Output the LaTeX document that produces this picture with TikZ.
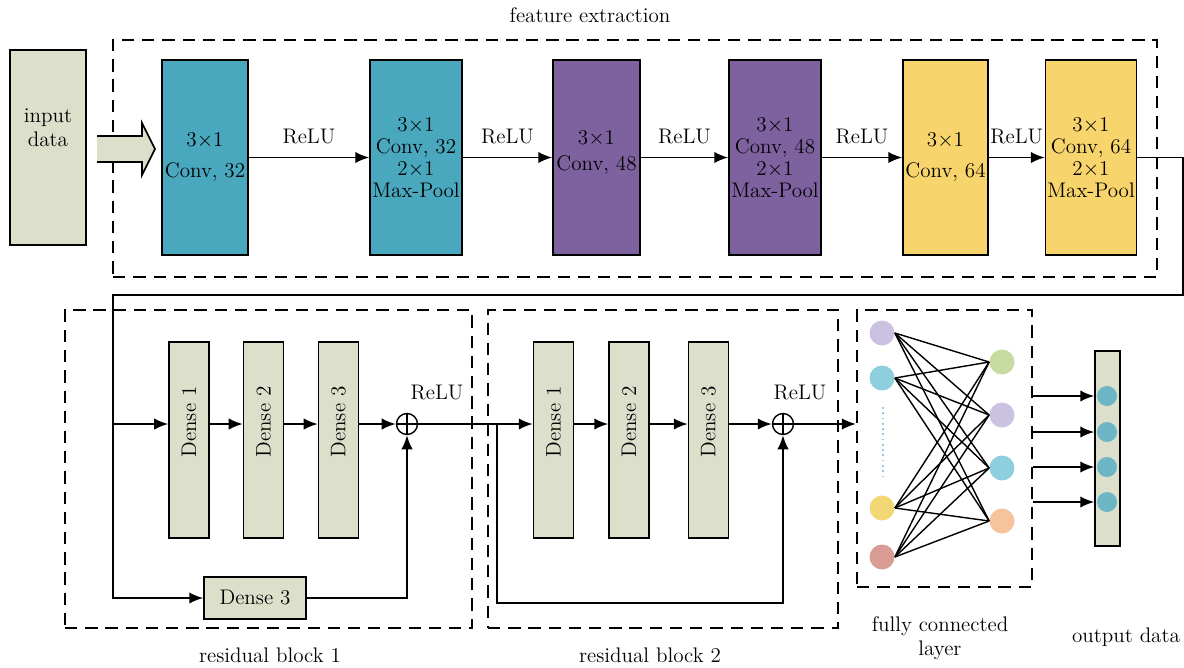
\documentclass[tikz,border=0pt]{standalone}
\usepackage{amsmath}
\usetikzlibrary{arrows.meta,positioning,shapes}
\usepackage{xcolor}

\definecolor{convblue}{HTML}{4AA8BE}
\definecolor{convpurple}{HTML}{7E62A0}
\definecolor{convyellow}{HTML}{F8D56C}
\definecolor{densegray}{HTML}{DCDFCA}
\definecolor{fclilac}{HTML}{CBC1E0}
\definecolor{fcblue}{HTML}{8ECFDE}
\definecolor{fcyellow}{HTML}{F3D774}
\definecolor{fcred}{HTML}{D99C95}
\definecolor{fcgreen}{HTML}{C6DBA0}
\definecolor{fcorange}{HTML}{F6C39D}
\definecolor{outteal}{HTML}{6DB6C5}

% rotated text in the dense layers, lifted to the arrow level
\newcommand{\denselabel}[1]{\rotatebox{90}{\hspace{0.72cm}#1}}

\begin{document}
\begin{tikzpicture}[%
        x=0.02cm, y=-0.02cm,
        every node/.style={font=\fontsize{12}{12.5}\selectfont, align=center, inner sep=1pt},
        convbox/.style={draw, line width=0.8pt, minimum height=3.9cm},
        densebox/.style={draw, fill=densegray, line width=0.8pt, minimum width=0.8cm, minimum height=3.92cm},
        region/.style={draw, line width=1.2pt, dash pattern=on 7pt off 4.5pt, inner sep=0pt},
        neuron/.style={circle, minimum size=0.5cm, inner sep=0pt},
        adder/.style={draw, circle, line width=0.8pt, minimum size=0.42cm, inner sep=0pt},
        link/.style={line width=1.1pt},
        >={Latex[length=8pt,width=6.5pt]}
      ]
      \useasboundingbox (0,0) rectangle (1184,667);

      % dashed regions
      \node [region, minimum width=20.88cm, minimum height=4.74cm] (feat) at (635,158.5) {};
      \node [region, minimum width=8.14cm, minimum height=6.36cm] (res1) at (268.5,469) {};
      \node [region, minimum width=7cm, minimum height=6.36cm] (res2) at (663,469) {};
      \node [region, minimum width=3.5cm, minimum height=5.54cm] (fc) at (944.5,448.5) {};
      \node (featlbl) at (590,15) {feature extraction};
      \node (res1lbl) at (270,655) {residual block 1};
      \node (res2lbl) at (650,655) {residual block 2};
      \node (fclbl) at (940,638) {fully connected\\[1pt]layer};
      \node (outlbl) at (1126,637) {output data};

      % input
      \node [draw, fill=densegray, line width=0.8pt, minimum width=1.52cm, minimum height=3.9cm] (input) at (48,147.5) {};
      \node (inputlbl) at (48,128) {input\\[1pt]data};
      \draw [fill=densegray, draw=none] (97,136) -- (142,136) -- (142,123) -- (155,149) -- (142,175) -- (142,162) -- (97,162) -- cycle;
      \draw [line width=1pt] (97,136) -- (142,136) -- (142,123) -- (155,149) -- (142,175) -- (142,162) -- (97,162);

      % feature extraction
      \node [convbox, fill=convblue, minimum width=1.72cm] (c1) at (205,157.5) {$3{\times}1$\\[5pt]Conv, 32};
      \node [convbox, fill=convblue, minimum width=1.84cm] (c2) at (416,157.5) {$3{\times}1$\\Conv, 32\\$2{\times}1$\\Max-Pool};
      \node [convbox, fill=convpurple, minimum width=1.74cm] (c3) at (596.5,157.5) {$3{\times}1$\\[2pt]Conv, 48\\[-5pt]};
      \node [convbox, fill=convpurple, minimum width=1.84cm] (c4) at (775,157.5) {$3{\times}1$\\Conv, 48\\$2{\times}1$\\Max-Pool};
      \node [convbox, fill=convyellow, minimum width=1.70cm] (c5) at (945.5,157.5) {$3{\times}1$\\[5pt]Conv, 64};
      \node [convbox, fill=convyellow, minimum width=1.64cm] (c6) at (1091,157.5) {$3{\times}1$\\Conv, 64\\$2{\times}1$\\Max-Pool};
      \foreach \a/\b in {c1/c2, c2/c3, c3/c4, c4/c5, c5/c6}
        \draw [link, ->] (\a) -- node [above=6pt] {ReLU} (\b);

      % residual block 1
      \node [densebox] (d11) at (189,440) {\denselabel{Dense 1}};
      \node [densebox] (d12) at (263.5,440) {\denselabel{Dense 2}};
      \node [densebox] (d13) at (338.5,440) {\denselabel{Dense 3}};
      \node [draw, fill=densegray, line width=0.8pt, minimum width=2.04cm, minimum height=0.84cm] (sk1) at (255,598) {Dense 3};
      \node [adder] (add1) at (407,424) {};
      \draw [line width=0.8pt] (add1.north) -- (add1.south) (add1.west) -- (add1.east);
      \node (relu1) at (437,393) {ReLU};

      % residual block 2
      \node [densebox] (d21) at (553.5,440) {\denselabel{Dense 1}};
      \node [densebox] (d22) at (629,440) {\denselabel{Dense 2}};
      \node [densebox] (d23) at (708.5,440) {\denselabel{Dense 3}};
      \node [adder] (add2) at (783,424) {};
      \draw [line width=0.8pt] (add2.north) -- (add2.south) (add2.west) -- (add2.east);
      \node (relu2) at (800,393) {ReLU};

      % route from feature extraction into block 1
      \coordinate (rt) at (1183,295);
      \coordinate (lt) at (113,295);
      \coordinate (split1) at (113,424);
      \coordinate (split2) at (497,424);
      \draw [link, ->] (c6.east) -| (rt) -- (lt) |- (sk1.west);
      \draw [link, ->] (split1) -- (split1 -| d11.west);
      \draw [link, ->] ([yshift=0.32cm]d11.east) -- ([yshift=0.32cm]d12.west);
      \draw [link, ->] ([yshift=0.32cm]d12.east) -- ([yshift=0.32cm]d13.west);
      \draw [link, ->] ([yshift=0.32cm]d13.east) -- (add1.west);
      \draw [link, ->] (sk1.east) -| (add1.south);

      % block 1 into block 2
      \draw [link, ->] (add1.east) -- ([yshift=0.32cm]d21.west);
      \draw [link, ->] ([yshift=0.32cm]d21.east) -- ([yshift=0.32cm]d22.west);
      \draw [link, ->] ([yshift=0.32cm]d22.east) -- ([yshift=0.32cm]d23.west);
      \draw [link, ->] ([yshift=0.32cm]d23.east) -- (add2.west);
      \draw [link, ->] (split2) -- ++(0,179) -| (add2.south);
      \draw [link, ->] (add2.east) -- (add2 -| fc.west);

      % fully connected layer
      \node [neuron, fill=fclilac] (l1) at (882,333) {};
      \node [neuron, fill=fcblue] (l2) at (882,378) {};
      \node [neuron, fill=fcyellow] (l3) at (882,508) {};
      \node [neuron, fill=fcred] (l4) at (882,557) {};
      \node [neuron, fill=fcgreen] (r1) at (1002,362) {};
      \node [neuron, fill=fclilac] (r2) at (1002,415) {};
      \node [neuron, fill=fcblue] (r3) at (1002,468) {};
      \node [neuron, fill=fcorange] (r4) at (1002,521) {};
      \draw [fcblue, line width=1pt, dotted] (883,407) -- (883,480);
      \foreach \i in {1,...,4}
        \foreach \j in {1,...,4}
          \draw [line width=0.8pt] (l\i.east) -- (r\j.west);

      % output
      \node [draw, fill=densegray, line width=0.8pt, minimum width=0.5cm, minimum height=3.9cm] (out) at (1107.5,448.5) {};
      \foreach \k/\y in {1/396, 2/432, 3/467, 4/502} {
        \node [neuron, fill=outteal, minimum size=0.4cm] (o\k) at (1107,\y) {};
        \draw [link, ->] (fc.east |- o\k) -- (out.west |- o\k);
      }
    \end{tikzpicture}
\end{document}
